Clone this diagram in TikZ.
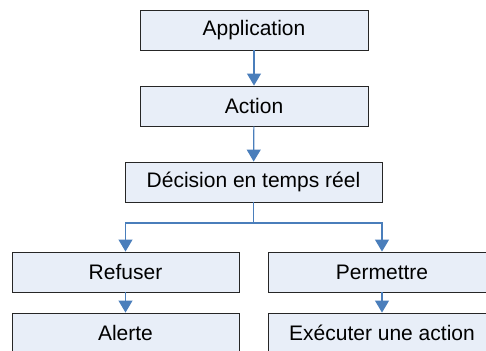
\documentclass[tikz,border=0pt]{standalone}
\usepackage{fontspec}
\setmainfont{Liberation Sans}
\usetikzlibrary{arrows.meta}
\definecolor{boxfill}{HTML}{E8EEF8}
\definecolor{arrowblue}{HTML}{4A7EBB}
\begin{document}
\begin{tikzpicture}[x=1pt,y=-1pt,
  box/.style={draw=black!85, line width=0.9pt, fill=boxfill, minimum height=40pt,
    inner sep=0pt, font=\fontsize{21}{24}\selectfont},
  conn/.style={draw=arrowblue, line width=1.2pt, -{Triangle[width=14pt,length=12pt]}}]
\useasboundingbox (0,0) rectangle (486,350);
\node[box, minimum width=228pt] (app) at (254,30) {Application};
\node[box, minimum width=228pt] (act) at (254,106) {Action};
\node[box, minimum width=257pt] (dec) at (253.5,182) {Décision en temps réel};
\node[box, minimum width=227pt] (ref) at (125.5,272) {Refuser};
\node[box, minimum width=227pt] (per) at (382,272) {Permettre};
\node[box, minimum width=227pt] (ale) at (125.5,333) {Alerte};
\node[box, minimum width=227pt] (exe) at (382,333) {Exécuter une action};
\coordinate (split) at (253.5,223);
\draw[conn] (app) -- (act);
\draw[conn] (act) -- (dec);
\draw[conn] (dec.south) -- (split) -| (ref.north);
\draw[conn] (split) -| (per.north);
\draw[conn] (ref) -- (ale);
\draw[conn] (per) -- (exe);
\end{tikzpicture}
\end{document}
